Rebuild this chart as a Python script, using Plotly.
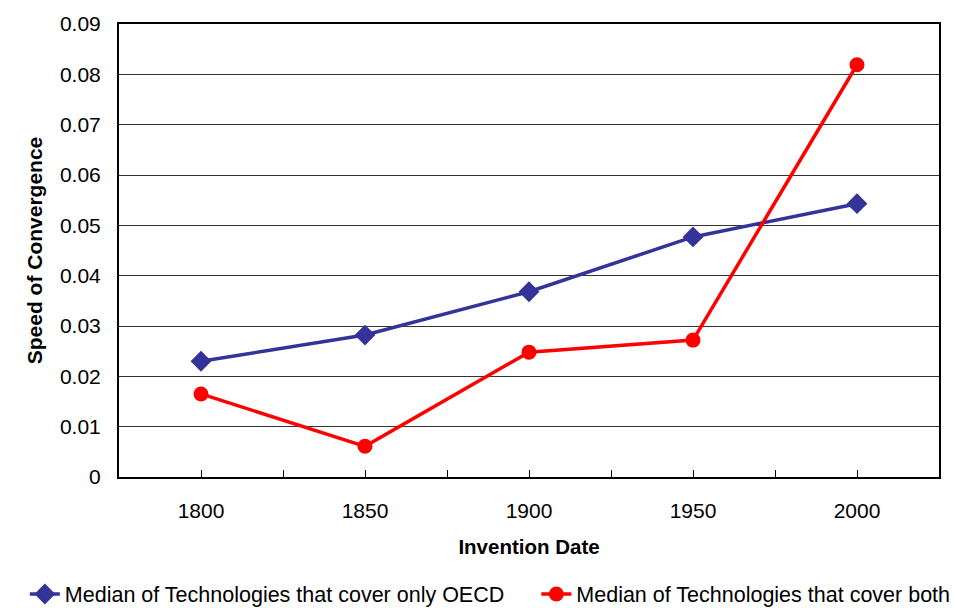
import plotly.graph_objects as go

# Datos
anios = [1800, 1850, 1900, 1950, 2000]
solo_oecd = [0.0230, 0.0282, 0.0368, 0.0477, 0.0543]
ambos = [0.0165, 0.0061, 0.0248, 0.0272, 0.0819]
limites = [1825, 1875, 1925, 1975]

COLOR_AZUL = "#333399"
COLOR_ROJO = "#FF0000"
FUENTE = "Liberation Sans, Arial, sans-serif"

fig = go.Figure()

fig.add_trace(go.Scatter(
    x=anios, y=solo_oecd,
    mode='lines+markers',
    name='Median of Technologies that cover only OECD',
    line=dict(color=COLOR_AZUL, width=3.5),
    marker=dict(symbol='diamond', size=16, color=COLOR_AZUL),
    legend='legend'
))

fig.add_trace(go.Scatter(
    x=anios, y=ambos,
    mode='lines+markers',
    name='Median of Technologies that cover both',
    line=dict(color=COLOR_ROJO, width=3.5),
    marker=dict(symbol='circle', size=15, color=COLOR_ROJO),
    legend='legend2'
))

leyenda_base = dict(
    orientation='h',
    xref='container', yref='container',
    y=0.023,
    xanchor='left', yanchor='middle',
    font=dict(size=21.5),
    bgcolor='rgba(0,0,0,0)'
)

fig.update_layout(
    width=956, height=608,
    margin=dict(l=119, r=17, t=20, b=131),
    plot_bgcolor='white',
    paper_bgcolor='white',
    font=dict(family=FUENTE, size=21, color='black'),
    showlegend=True,
    legend=dict(leyenda_base, x=0.026),
    legend2=dict(leyenda_base, x=0.561),
    xaxis=dict(
        range=[1775, 2025],
        tickmode='array',
        tickvals=anios,
        ticks='inside', ticklen=7, tickcolor='black', tickwidth=1,
        minor=dict(tickvals=limites,
                   ticks='inside', ticklen=7, tickcolor='black'),
        showgrid=False,
        showline=True, linecolor='black', linewidth=2, mirror=True,
        zeroline=False,
        title=dict(text='<b>Invention Date</b>', font=dict(size=20.5), standoff=18),
        tickfont=dict(size=21),
        ticklabelstandoff=14
    ),
    yaxis=dict(
        range=[0, 0.09],
        dtick=0.01,
        tickformat='.2~f',
        showgrid=True, gridcolor='#333333', gridwidth=1,
        showline=True, linecolor='black', linewidth=2, mirror=True,
        zeroline=False,
        ticks='outside', ticklen=0,
        title=dict(text='<b>Speed of Convergence</b>', font=dict(size=21), standoff=12),
        tickfont=dict(size=21),
        ticklabelstandoff=12
    )
)

# quitar el margen por defecto del body para que la figura ocupe la ventana
fig.write_html("out.html", config={'displayModeBar': False},
               post_script="document.body.style.margin='0';")
